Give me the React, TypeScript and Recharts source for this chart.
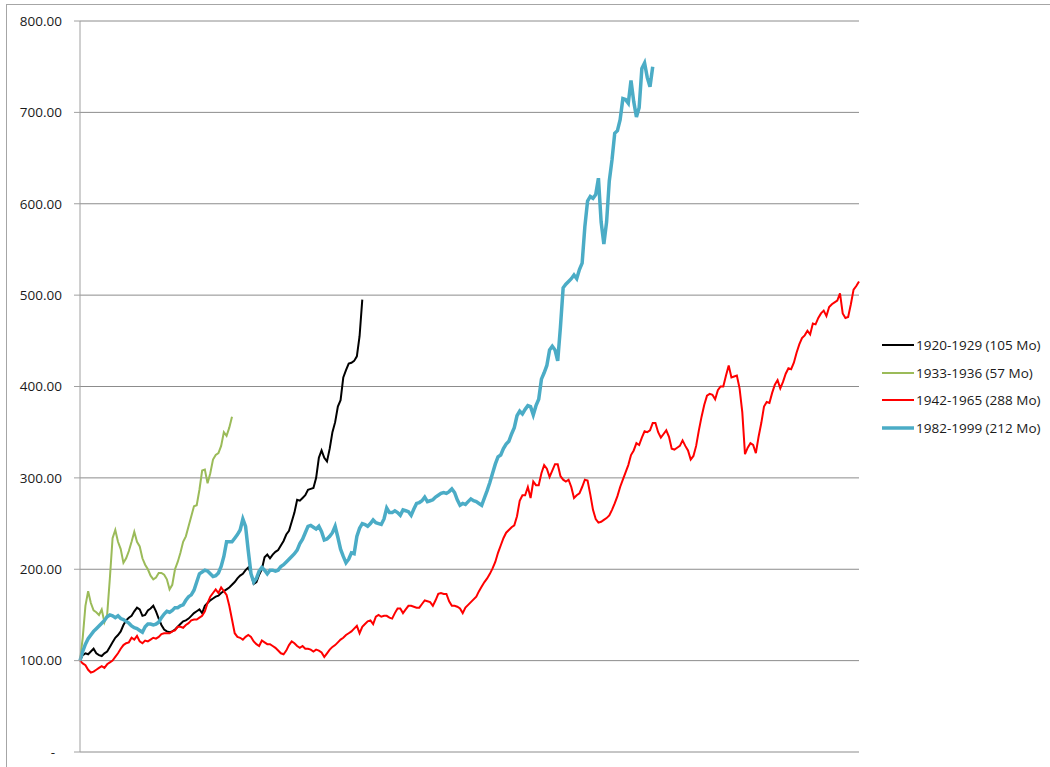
import { LineChart, Line, XAxis, YAxis, CartesianGrid } from 'recharts';

// index values, one per month, all series start at 100
const black1920 = [
  100, 106, 108, 107, 110, 113, 108, 106, 105, 108,
  110, 115, 120, 125, 128, 132, 139, 144, 147, 149,
  154, 158, 156, 149, 150, 155, 157, 160, 154, 146,
  139, 134, 132, 131, 132, 134, 137, 140, 143, 144,
  146, 149, 152, 154, 156, 152, 160, 163, 166, 168,
  170, 171, 174, 176, 178, 180, 183, 186, 190, 193,
  195, 199, 202, 195, 184, 186, 194, 200, 213, 216,
  212, 216, 219, 221, 226, 231, 238, 242, 252, 262,
  276, 275, 278, 281, 287, 288, 289, 300, 322, 330,
  322, 318, 332, 350, 361, 378, 385, 410, 418, 425,
  426, 428, 433, 455, 495,
];

const green1933 = [
  100, 125, 160, 176, 163, 155, 153, 150, 156, 142,
  150, 190, 234, 243, 230, 222, 207, 212, 220, 230,
  241, 230, 225, 212, 205, 200, 193, 189, 191, 196,
  196, 194, 189, 178, 183, 200, 208, 218, 230, 236,
  247, 258, 269, 270, 287, 308, 309, 294, 305, 320,
  325, 327, 335, 350, 346, 355, 367,
];

const red1942 = [
  100, 97, 95, 90, 87, 88, 90, 92, 94, 92,
  96, 98, 100, 104, 108, 113, 117, 119, 120, 125,
  123, 127, 121, 119, 122, 121, 123, 125, 124, 126,
  129, 130, 130, 130, 132, 133, 137, 137, 136, 139,
  141, 144, 145, 145, 147, 149, 154, 163, 170, 174,
  178, 174, 180, 176, 172, 160, 145, 130, 126, 125,
  123, 126, 128, 126, 121, 118, 116, 122, 120, 118,
  118, 116, 114, 111, 108, 107, 111, 117, 121, 119,
  116, 114, 116, 113, 113, 112, 110, 112, 111, 109,
  104, 108, 112, 115, 117, 120, 123, 125, 128, 130,
  132, 135, 138, 130, 137, 140, 143, 144, 140, 148,
  150, 148, 149, 149, 147, 146, 152, 157, 157, 152,
  156, 160, 160, 159, 158, 158, 162, 166, 165, 164,
  160, 166, 173, 174, 173, 173, 165, 160, 160, 159,
  157, 152, 158, 161, 164, 167, 170, 176, 181, 186,
  190, 195, 201, 208, 218, 226, 234, 240, 243, 246,
  248, 258, 275, 281, 281, 290, 278, 296, 292, 292,
  305, 314, 310, 301, 308, 315, 315, 302, 298, 296,
  298, 290, 278, 281, 283, 290, 298, 297, 282, 265,
  255, 251, 252, 254, 256, 259, 265, 272, 280, 290,
  298, 306, 314, 325, 330, 338, 336, 344, 351, 350,
  352, 360, 360, 350, 344, 348, 352, 345, 332, 331,
  333, 335, 341, 335, 330, 320, 324, 335, 352, 367,
  380, 390, 392, 391, 386, 396, 400, 400, 412, 423,
  410, 411, 412, 398, 372, 326, 333, 338, 336, 327,
  345, 360, 378, 383, 382, 393, 402, 407, 398, 405,
  414, 420, 419, 426, 437, 446, 453, 456, 461, 457,
  469, 468, 475, 480, 483, 477, 487, 490, 492, 494,
  502, 480, 475, 476, 490, 506, 510, 515,
];

const blue1982 = [
  100, 110, 118, 124, 128, 132, 135, 138, 141, 144,
  148, 150, 149, 147, 149, 146, 145, 143, 141, 138,
  136, 135, 133, 131, 137, 140, 140, 139, 140, 142,
  147, 151, 154, 153, 155, 158, 158, 160, 161, 166,
  170, 172, 177, 186, 195, 197, 199, 198, 195, 192,
  193, 196, 203, 214, 230, 230, 230, 234, 238, 243,
  255, 247, 220, 195, 186, 190, 198, 202, 199, 195,
  199, 199, 198, 199, 203, 205, 208, 211, 214, 217,
  221, 228, 233, 240, 247, 248, 246, 244, 247, 241,
  232, 233, 236, 240, 247, 235, 222, 214, 207, 211,
  218, 217, 236, 245, 250, 249, 247, 250, 254, 251,
  250, 249, 255, 267, 262, 262, 264, 262, 259, 265,
  264, 263, 259, 266, 272, 273, 275, 279, 274, 275,
  276, 279, 281, 283, 284, 283, 285, 288, 284, 276,
  270, 272, 271, 274, 277, 275, 274, 272, 270, 278,
  286, 295, 305, 315, 323, 325, 332, 337, 340, 348,
  355, 368, 373, 370, 375, 379, 378, 369, 379, 386,
  408, 415, 423, 440, 444, 440, 428, 465, 508, 512,
  515, 518, 522, 518, 528, 535, 575, 603, 608, 606,
  610, 628, 580, 556, 580, 625, 648, 677, 680, 692,
  715, 714, 710, 735, 712, 695, 705, 748, 754, 738,
  728, 750,
];

const yTicks = [0, 100, 200, 300, 400, 500, 600, 700, 800];

const SERIES = [
  { key: 's1920', name: '1920-1929 (105 Mo)', color: '#000000', width: 2 },
  { key: 's1933', name: '1933-1936 (57 Mo)', color: '#9BBB59', width: 2 },
  { key: 's1942', name: '1942-1965 (288 Mo)', color: '#FF0000', width: 2 },
  { key: 's1982', name: '1982-1999 (212 Mo)', color: '#4BACC6', width: 3.5 },
];

const data = red1942.map((v, i) => ({
  month: i + 1,
  s1920: black1920[i],
  s1933: green1933[i],
  s1942: v,
  s1982: blue1982[i],
}));

const FONT = '"Open Sans", "Liberation Sans", sans-serif';

const YTick = ({ x, y, payload }: any) => {
  const v = payload.value as number;
  return (
    <text
      x={v === 0 ? x - 7 : x}
      y={y}
      dy="0.355em"
      textAnchor="end"
      fontFamily={FONT}
      fontSize={13.5}
      fill="#1a1a1a"
    >
      {v === 0 ? '-' : v.toFixed(2)}
    </text>
  );
};

const LegendBox = () => (
  <div
    style={{
      position: 'absolute',
      left: 882,
      top: 331,
      fontFamily: FONT,
      fontSize: 13.5,
      color: '#1a1a1a',
    }}
  >
    {SERIES.map(s => (
      <div key={s.key} style={{ display: 'flex', alignItems: 'center', height: 27.7 }}>
        <svg width={32} height={8}>
          <line x1={0} x2={32} y1={4} y2={4} stroke={s.color} strokeWidth={s.width} />
        </svg>
        <span style={{ marginLeft: 2, whiteSpace: 'nowrap' }}>{s.name}</span>
      </div>
    ))}
  </div>
);

export default function App() {
  return (
    <div
      style={{
        position: 'absolute',
        left: 0,
        top: 0,
        width: 1050,
        height: 767,
        overflow: 'hidden',
        background: '#fff',
      }}
    >
      <div
        style={{
          position: 'absolute',
          left: 6,
          top: 4,
          width: 1100,
          height: 800,
          borderLeft: '1px solid #a6a6a6',
          borderTop: '1px solid #a6a6a6',
        }}
      />
      <div style={{ position: 'absolute', left: 0, top: 0 }}>
        <LineChart
          width={1050}
          height={767}
          data={data}
          margin={{ top: 21, right: 191, bottom: 15, left: 0 }}
        >
          <CartesianGrid vertical={false} stroke="#8c8c8c" />
          <XAxis
            dataKey="month"
            tick={false}
            tickLine={false}
            height={0}
            stroke="#8c8c8c"
          />
          <YAxis
            domain={[0, 800]}
            ticks={yTicks}
            width={80}
            tickSize={6}
            tickMargin={12}
            tick={<YTick />}
            stroke="#a0a0a0"
            interval={0}
          />
          {SERIES.map(s => (
            <Line
              key={s.key}
              type="linear"
              dataKey={s.key}
              name={s.name}
              stroke={s.color}
              strokeWidth={s.width}
              dot={false}
              activeDot={false}
              isAnimationActive={false}
            />
          ))}
        </LineChart>
      </div>
      <LegendBox />
    </div>
  );
}
